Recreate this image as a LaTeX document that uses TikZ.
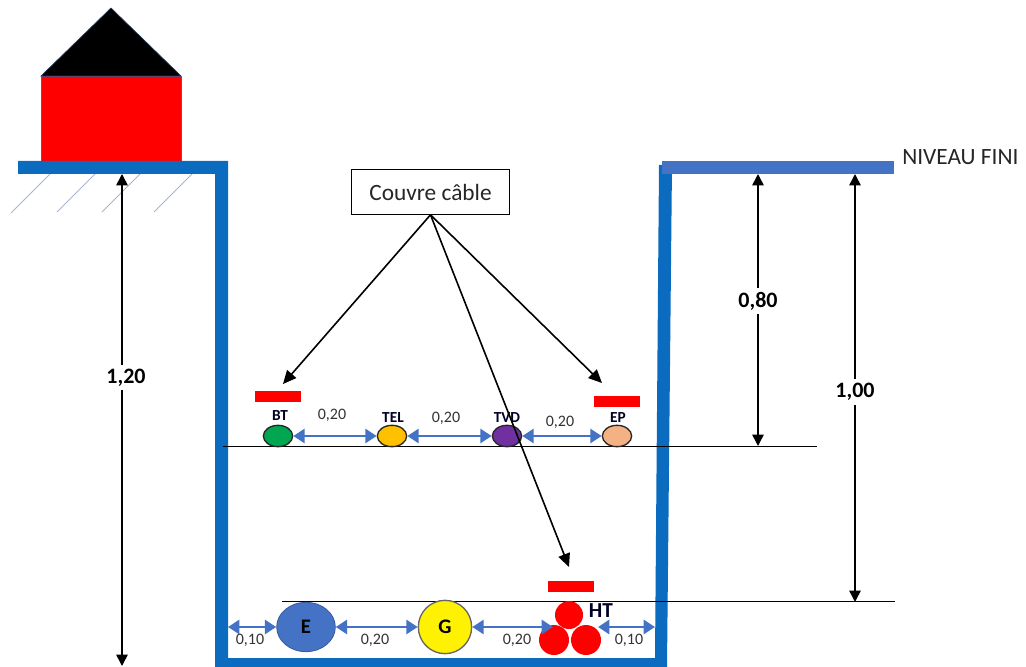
\documentclass[tikz,border=0pt]{standalone}
\usepackage{fontspec}
\setmainfont{Carlito}
\usetikzlibrary{arrows.meta,shapes.geometric}
\definecolor{wallblue}{HTML}{0A6BBF}
\definecolor{barblue}{HTML}{4472C4}
\definecolor{hatch}{HTML}{A9B4D6}
\tikzset{
  dimline/.style={draw=black,line width=1.2pt,{Triangle[length=8.5pt,width=8.5pt]}-{Triangle[length=8.5pt,width=8.5pt]}},
  callout/.style={draw=black,line width=1.2pt,-{Triangle[length=10pt,width=9pt]}},
  gap/.style={draw=barblue,line width=2pt,{Triangle[length=8.5pt,width=10.5pt]}-{Triangle[length=8.5pt,width=10.5pt]}},
  level/.style={draw=black,line width=.7pt},
  cover/.style={fill=red,draw=none},
  pipe/.style={ellipse,draw=black!85,line width=1pt,inner sep=0pt,minimum width=22pt,minimum height=16pt},
  bigpipe/.style={circle,fill=red,draw=none,inner sep=0pt},
  tag/.style={font=\fontsize{11.5}{13}\selectfont\bfseries,text=black!85!blue,inner sep=0pt},
  num/.style={font=\fontsize{12}{14}\selectfont,text=black!80,inner sep=0pt},
  dim/.style={font=\fontsize{16.5}{19}\selectfont\bfseries,fill=white,inner sep=3pt},
  hatchline/.style={draw=hatch,line width=.7pt}
}
\begin{document}
\begin{tikzpicture}[x=0.75pt,y=-0.75pt]
\useasboundingbox (0,0) rectangle (1026,667);
\fill[white] (0,0) rectangle (1026,667);
\clip (0,0) rectangle (1026,667);
% hatching
\draw[hatchline] (50,174) -- (11,213);
\draw[hatchline] (95,174) -- (57,212);
\draw[hatchline] (140,174) -- (102,212);
\draw[hatchline] (192,174) -- (154,212);
% house
\fill[red,draw=barblue!60!red,line width=.5pt] (41,76) rectangle (181,161);
\fill[black,draw=barblue!50!black,line width=.5pt] (41,76) -- (111,8) -- (181,76) -- cycle;
% trench
\fill[wallblue] (18,161) -- (228,161) -- (228,658) -- (655,658) -- (659,165) -- (672,165) -- (667,667) -- (215,667) -- (215,174) -- (18,174) -- cycle;
\fill[barblue] (662,161) rectangle (894,174);
% levels
\draw[level] (223,446) -- (817,446);
\draw[level] (282,601) -- (895,601);
% reference points
\coordinate (groundA) at (122,174);
\coordinate (bottomA) at (122,666);
\coordinate (topB) at (758,174);
\coordinate (lineB) at (758,446);
\coordinate (topC) at (855,174);
\coordinate (lineC) at (855,602);
\coordinate (wallL) at (228,627);
\coordinate (wallR) at (655,627);
\coordinate (tipBT) at (283,384);
\coordinate (tipEP) at (602,383);
\coordinate (tipHT) at (569,567);
% covers
\fill[cover] (255,391) rectangle (301,401.5);
\fill[cover] (594,396) rectangle (640,407);
\fill[cover] (548,581) rectangle (594,592);
% upper pipes
\node[pipe,fill={rgb,255:red,0;green,166;blue,80}] (bt) at (278,436) {};
\node[pipe,fill={rgb,255:red,255;green,192;blue,0}] (tel) at (392,436) {};
\node[pipe,fill={rgb,255:red,112;green,48;blue,160}] (tvd) at (507,436) {};
\node[pipe,fill={rgb,255:red,244;green,177;blue,131}] (ep) at (617,436) {};
\node[tag] (lbt) at (280,416) {BT};
\node[tag] (ltel) at (393,418) {TEL};
\node[tag] (ltvd) at (507,418) {TVD};
\node[tag] (lep) at (618,418) {EP};
\draw[gap] (bt) -- (tel);
\draw[gap] (tel) -- (tvd);
\draw[gap] (tvd) -- (ep);
\node[num] (n1) at (332,415) {0,20};
\node[num] (n2) at (446,418) {0,20};
\node[num] (n3) at (560,422) {0,20};
% lower pipes
\node[ellipse,fill=barblue,draw=barblue!80!black,line width=.6pt,inner sep=0pt,minimum width=44pt,minimum height=37pt] (e) at (306,627) {\fontsize{15.5}{18}\selectfont\bfseries E};
\node[circle,fill=yellow,draw=black!60,line width=1pt,inner sep=0pt,minimum size=40pt] (g) at (445,627) {\fontsize{15.5}{18}\selectfont\bfseries G};
\node[bigpipe,minimum size=21pt] (ht1) at (569,615) {};
\node[bigpipe,minimum size=22.5pt] (ht2) at (554,640) {};
\node[bigpipe,minimum size=22.5pt] (ht3) at (586,640) {};
\node[font=\fontsize{16}{18}\selectfont\bfseries,inner sep=0pt,text=black!85!blue] (ht) at (601,611) {HT};
\coordinate (htL) at (553,627);
\coordinate (htR) at (598,627);
\draw[gap] (wallL) -- (e);
\draw[gap] (e) -- (g);
\draw[gap] (g) -- (htL);
\draw[gap] (htR) -- (wallR);
\node[num] (n4) at (250,640) {0,10};
\node[num] (n5) at (375,640) {0,20};
\node[num] (n6) at (517,640) {0,20};
\node[num] (n7) at (629,640) {0,10};
% dimensions
\draw[dimline] (groundA) -- node[dim,pos=.41,xshift=3pt,yshift=-1.5pt] (d120) {1,20} (bottomA);
\draw[dimline] (topB) -- node[dim,pos=.46,yshift=-1.5pt] (d080) {0,80} (lineB);
\draw[dimline] (topC) -- node[dim,pos=.5,yshift=-3pt] (d100) {1,00} (lineC);
% callout
\node[draw=black,fill=white,line width=.7pt,minimum width=119pt,minimum height=33.5pt,inner sep=0pt,font=\fontsize{17.5}{20}\selectfont,text=black!85] (cc) at (430.5,192) {Couvre câble};
\draw[callout] (cc.south) -- (tipBT);
\draw[callout] (cc.south) -- (tipEP);
\draw[callout] (cc.south) -- (tipHT);
\node[font=\fontsize{17.5}{20}\selectfont,text=black!85,inner sep=0pt,anchor=west] (nf) at (902,157) {NIVEAU FINI};
\end{tikzpicture}
\end{document}
